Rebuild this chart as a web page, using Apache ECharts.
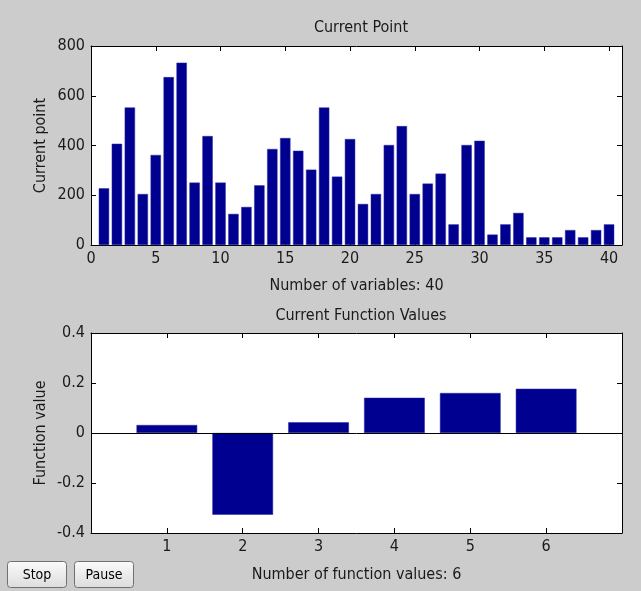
<!DOCTYPE html>
<html>
<head>
<meta charset="utf-8">
<script src="https://cdn.jsdelivr.net/npm/echarts@6/dist/echarts.min.js"></script>
<style>
html,body{margin:0;padding:0;background:#cccccc;}
#chart{width:641px;height:591px;}
</style>
</head>
<body>
<div id="chart"></div>
<script>
// ---- Data ----
const variableIndex = [1,2,3,4,5,6,7,8,9,10,11,12,13,14,15,16,17,18,19,20,21,22,23,24,25,26,27,28,29,30,31,32,33,34,35,36,37,38,39,40];
const currentPoint = [228,407,553,205,362,675,733,251,438,251,125,153,240,386,430,379,303,553,275,426,165,205,402,478,205,247,287,83,402,419,42,83,129,31,31,31,60,31,60,83];
const functionIndex = [1,2,3,4,5,6];
const functionValues = [0.032,-0.327,0.043,0.141,0.160,0.177];
const topTitle = 'Current Point';
const bottomTitle = 'Current Function Values';
const topXName = 'Number of variables: 40';
const bottomXName = 'Number of function values: 6';
const topYName = 'Current point';
const bottomYName = 'Function value';

const FONT = "'Liberation Sans Narrow','Arial Narrow','DejaVu Sans Condensed',sans-serif";
const TXT = '#1a1a1a';
const BAR = '#000090';
const FS = 16;

const chart = echarts.init(document.getElementById('chart'), null, {renderer:'canvas'});

function mainX(gridIndex, min, max, interval, name, hideEnds, gap){
  return {
    type:'value', gridIndex, min, max, interval, position:'bottom',
    name, nameLocation:'middle', nameGap:gap, nameMoveOverlap:false,
    nameTextStyle:{fontFamily:FONT,fontSize:FS,color:TXT},
    axisLine:{show:true,onZero:false,lineStyle:{color:'#000',width:1}},
    axisTick:{show:true,inside:true,length:5,lineStyle:{color:'#000'}},
    axisLabel:{fontFamily:FONT,fontSize:FS,color:TXT,margin:6,
      showMaxLabel:false,
      formatter: v => (hideEnds && (v===min||v===max)) ? '' : String(v)},
    splitLine:{show:false}
  };
}
function mirrorX(gridIndex, min, max, interval){
  return {
    type:'value', gridIndex, min, max, interval, position:'top',
    axisLine:{show:true,onZero:false,lineStyle:{color:'#000',width:1}},
    axisTick:{show:true,inside:true,length:5,lineStyle:{color:'#000'}},
    axisLabel:{show:false}, splitLine:{show:false}
  };
}
function mainY(gridIndex, min, max, interval, name){
  return {
    type:'value', gridIndex, min, max, interval, position:'left',
    name, nameLocation:'middle', nameGap:42, nameMoveOverlap:false,
    nameTextStyle:{fontFamily:FONT,fontSize:FS,color:TXT},
    axisLine:{show:true,onZero:false,lineStyle:{color:'#000',width:1}},
    axisTick:{show:true,inside:true,length:5,lineStyle:{color:'#000'}},
    axisLabel:{fontFamily:FONT,fontSize:FS,color:TXT,margin:6},
    splitLine:{show:false}
  };
}
function mirrorY(gridIndex, min, max, interval){
  return {
    type:'value', gridIndex, min, max, interval, position:'right',
    axisLine:{show:true,onZero:false,lineStyle:{color:'#000',width:1}},
    axisTick:{show:true,inside:true,length:5,lineStyle:{color:'#000'}},
    axisLabel:{show:false}, splitLine:{show:false}
  };
}

function button(x, label, w){
  return {
    type:'group', left:x, top:561,
    children:[
      {type:'rect', shape:{x:0,y:0,width:w,height:26,r:3},
       style:{fill:new echarts.graphic.LinearGradient(0,0,0,1,[{offset:0,color:'#fbfbfb'},{offset:1,color:'#dcdcdc'}]),
              stroke:'#707070',lineWidth:1}},
      {type:'text', x:w/2, y:14,
       style:{text:label,fontFamily:FONT,fontSize:14,fill:'#000',align:'center',verticalAlign:'middle'}}
    ]
  };
}

const option = {
  backgroundColor:'#cccccc',
  animation:false,
  title:[
    {text:topTitle,left:356,top:15,textAlign:'center',
     textStyle:{fontFamily:FONT,fontSize:FS,fontWeight:'normal',color:TXT}},
    {text:bottomTitle,left:356,top:303,textAlign:'center',
     textStyle:{fontFamily:FONT,fontSize:FS,fontWeight:'normal',color:TXT}}
  ],
  grid:[
    {left:91,top:46,width:531,height:199,show:true,backgroundColor:'#ffffff',borderWidth:0},
    {left:91,top:333,width:531,height:200,show:true,backgroundColor:'#ffffff',borderWidth:0}
  ],
  xAxis:[
    mainX(0,0,41,5,topXName,false,33),
    mirrorX(0,0,41,5),
    mainX(1,0,7,1,bottomXName,true,34),
    mirrorX(1,0,7,1)
  ],
  yAxis:[
    mainY(0,0,800,200,topYName),
    mirrorY(0,0,800,200),
    mainY(1,-0.4,0.4,0.2,bottomYName),
    mirrorY(1,-0.4,0.4,0.2)
  ],
  series:[
    {type:'bar', xAxisIndex:0, yAxisIndex:0, barWidth:'80%',
     data: variableIndex.map((x,i)=>[x,currentPoint[i]]),
     itemStyle:{color:BAR,borderColor:'#2a2aa0',borderWidth:0.5}},
    {type:'bar', xAxisIndex:2, yAxisIndex:2, barWidth:'80%',
     data: functionIndex.map((x,i)=>[x,functionValues[i]]),
     itemStyle:{color:BAR,borderColor:'#2a2aa0',borderWidth:0.5},
     markLine:{silent:true,symbol:'none',label:{show:false},
       lineStyle:{color:'#000',width:1,type:'solid'},
       data:[{yAxis:0}]}}
  ],
  graphic:[button(7,'Stop',59), button(74,'Pause',59)]
};
chart.setOption(option);
</script>
</body>
</html>
